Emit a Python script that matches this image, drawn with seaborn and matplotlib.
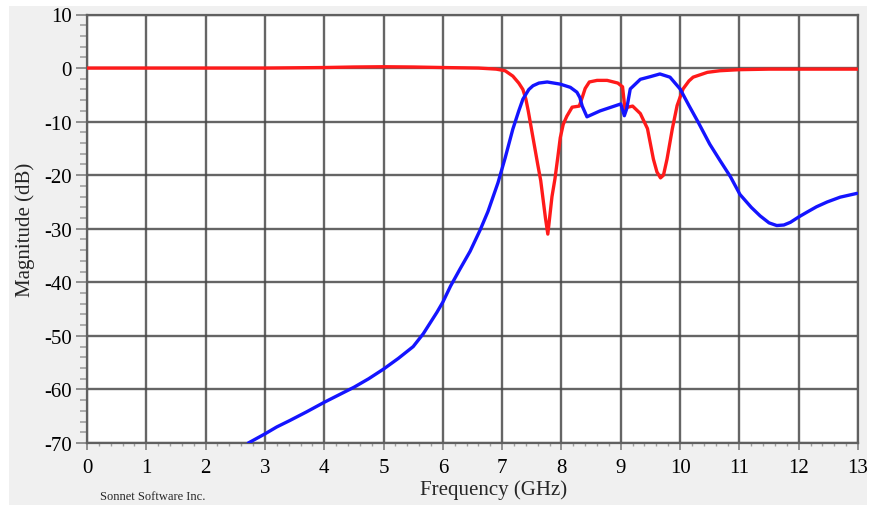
import numpy as np
import pandas as pd
import matplotlib
matplotlib.use("Agg")
import matplotlib.pyplot as plt
from matplotlib.patches import Rectangle
from matplotlib.ticker import MultipleLocator
import seaborn as sns

# S11 (reflection) response
s11_freq = [0.0, 1.0, 2.0, 3.0, 4.0, 4.5, 5.0, 5.5, 6.0, 6.6, 6.9, 7.05, 7.18, 7.28,
            7.35, 7.4, 7.44, 7.48, 7.52, 7.56, 7.6, 7.65, 7.69, 7.73, 7.77, 7.8,
            7.84, 7.89, 7.94, 7.98, 8.03, 8.09, 8.18, 8.3, 8.35, 8.4, 8.47, 8.6,
            8.77, 8.95, 9.03, 9.07, 9.12, 9.2, 9.33, 9.45, 9.55, 9.61, 9.67, 9.72,
            9.78, 9.87, 9.95, 10.05, 10.15, 10.22, 10.46, 10.67, 11.0, 11.5, 13.0]
s11_db = [0.0, 0.0, 0.0, 0.0, 0.1, 0.2, 0.25, 0.2, 0.1, 0.0, -0.2, -0.5, -1.5, -2.8,
          -4.0, -5.8, -8.0, -10.5, -13.0, -15.5, -18.0, -21.0, -24.5, -28.0, -31.0,
          -28.0, -24.0, -20.7, -16.5, -13.0, -10.5, -9.0, -7.3, -7.1, -5.5, -3.8,
          -2.6, -2.3, -2.3, -2.8, -3.5, -7.6, -7.3, -7.1, -8.5, -11.3, -17.0,
          -19.4, -20.5, -20.0, -17.0, -11.3, -7.0, -3.9, -2.4, -1.7, -0.8, -0.5,
          -0.3, -0.2, -0.2]

# S21 (transmission) response
s21_freq = [2.72, 3.0, 3.2, 3.42, 3.7, 4.0, 4.25, 4.5, 4.75, 5.0, 5.25, 5.5, 5.67,
            5.9, 6.0, 6.13, 6.29, 6.46, 6.63, 6.76, 6.93, 7.05, 7.18, 7.28, 7.35,
            7.45, 7.52, 7.62, 7.76, 7.98, 8.15, 8.26, 8.31, 8.35, 8.43, 8.65, 9.0,
            9.06, 9.1, 9.16, 9.33, 9.5, 9.66, 9.83, 10.0, 10.15, 10.3, 10.5, 10.67,
            10.85, 11.01, 11.2, 11.35, 11.5, 11.63, 11.75, 11.86, 12.0, 12.14, 12.3,
            12.48, 12.7, 12.98]
s21_db = [-70.0, -68.3, -67.0, -65.8, -64.2, -62.4, -61.0, -59.6, -58.0, -56.2,
          -54.2, -52.0, -49.6, -45.6, -43.7, -40.7, -37.5, -34.2, -30.2, -26.8,
          -21.4, -16.8, -11.4, -8.0, -5.8, -4.0, -3.3, -2.8, -2.6, -3.0, -3.6,
          -4.5, -5.5, -7.1, -9.1, -8.0, -6.7, -8.9, -7.6, -3.9, -2.1, -1.6, -1.1,
          -1.7, -3.9, -7.0, -10.0, -14.2, -17.2, -20.3, -23.6, -26.0, -27.6,
          -28.9, -29.4, -29.3, -28.8, -27.8, -26.9, -25.9, -25.0, -24.1, -23.4]

x_ticks = list(range(0, 14))
y_ticks = list(range(-70, 11, 10))

sns.set_style("ticks")
plt.rcParams["font.family"] = ["Liberation Serif", "DejaVu Serif"]
plt.rcParams["axes.unicode_minus"] = False

df = pd.concat([
    pd.DataFrame({"freq": s11_freq, "mag": s11_db, "trace": "S11"}),
    pd.DataFrame({"freq": s21_freq, "mag": s21_db, "trace": "S21"}),
], ignore_index=True)

fig = plt.figure(figsize=(8.71, 5.06), dpi=100, facecolor="white")
# light gray panel behind the whole chart
fig.patches.append(Rectangle((9 / 871, 0), (867 - 9) / 871, 1 - 7 / 506,
                             transform=fig.transFigure, facecolor="#f0f0f0",
                             edgecolor="none", zorder=-10))

ax = fig.add_axes([87 / 871, 1 - 444 / 506, (858 - 87) / 871, (444 - 15.5) / 506])
ax.set_zorder(5)
ax.set_facecolor("white")

sns.lineplot(data=df, x="freq", y="mag", hue="trace", sort=False,
             palette={"S11": "#ff1a1a", "S21": "#1414ff"}, linewidth=2.4,
             legend=False, ax=ax, zorder=3)
for line in ax.get_lines():
    line.set_solid_joinstyle("round")

ax.set_xlim(0, 13)
ax.set_ylim(-70, 10)
ax.set_xticks(x_ticks)
ax.set_yticks(y_ticks)
ax.xaxis.set_minor_locator(MultipleLocator(0.2))
ax.yaxis.set_minor_locator(MultipleLocator(2))

ax.grid(True, which="major", color="#4a4a4a", linewidth=1.7, alpha=0.85, zorder=1)
for sp in ax.spines.values():
    sp.set_color("#606060")
    sp.set_linewidth(1.6)

ax.tick_params(axis="y", which="major", direction="out", length=8, width=1.2,
               color="#808080", pad=3, labelsize=15, labelcolor="black")
ax.tick_params(axis="y", which="minor", direction="out", length=5, width=1.2,
               color="#a0a0a0")
ax.tick_params(axis="x", which="major", direction="out", length=5, width=1.2,
               color="#808080", pad=6, labelsize=15, labelcolor="black")
ax.tick_params(axis="x", which="minor", direction="out", length=2.5, width=1.0,
               color="#a0a0a0")

ax.set_xlabel("Frequency (GHz)", fontsize=15)
ax.set_ylabel("Magnitude (dB)", fontsize=15)
ax.xaxis.set_label_coords(0.527, -0.085)
ax.yaxis.set_label_coords(-0.068, 0.5)

fig.text(100 / 871, 1 - 497 / 506, "Sonnet Software Inc.", fontsize=9,
         va="center", ha="left")

fig.savefig("out.png", dpi=100, facecolor="white")
